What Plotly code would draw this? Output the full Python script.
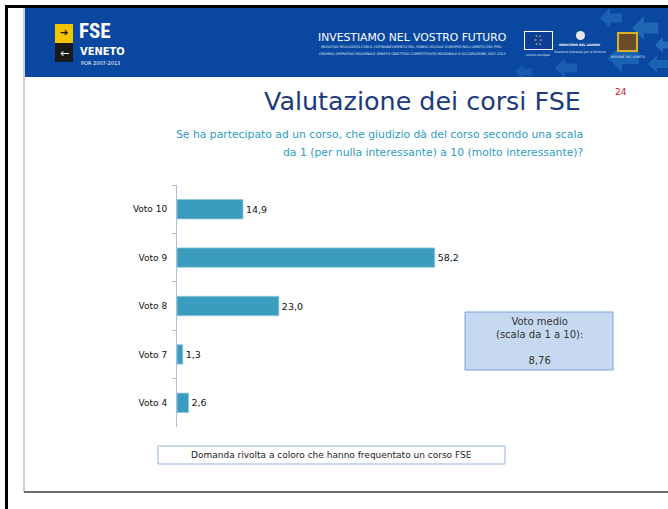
import plotly.graph_objects as go

categories = ["Voto 10", "Voto 9", "Voto 8", "Voto 7", "Voto 4"]
values = [14.9, 58.2, 23.0, 1.3, 2.6]
value_labels = ["14,9", "58,2", "23,0", "1,3", "2,6"]

title_text = "Valutazione dei corsi FSE"
subtitle_lines = ["Se ha partecipato ad un corso, che giudizio dà del corso secondo una scala",
                  "da 1 (per nulla interessante) a 10 (molto interessante)?"]
mean_label = "Voto medio<br>(scala da 1 a 10):<br><br>8,76"
note_text = "Domanda rivolta a coloro che hanno frequentato un corso FSE"
page_num = "24"

W, H = 668, 509
def px(x):
    return x / W
def py(y):
    return 1 - y / H

FONT = "DejaVu Sans"
BAR = "#3a9dbd"
AXIS = "#a9bfdb"

fig = go.Figure(go.Bar(
    x=values, y=categories, orientation="h",
    marker=dict(color=BAR, line=dict(color="#8fc6da", width=0.8)),
    text=value_labels, textposition="outside",
    textfont=dict(family=FONT, size=9.5, color="#111111"),
    cliponaxis=False, width=0.4, hoverinfo="skip",
))

fig.update_layout(
    width=W, height=H, margin=dict(l=0, r=0, t=0, b=0),
    paper_bgcolor="white", plot_bgcolor="rgba(0,0,0,0)",
    showlegend=False,
    xaxis=dict(domain=[px(177), px(487)], range=[0, 70], visible=False, fixedrange=True),
    yaxis=dict(domain=[py(427), py(185)], categoryorder="array", categoryarray=categories,
               autorange="reversed", showline=True, linecolor=AXIS, linewidth=1,
               ticks="outside", tickson="boundaries", ticklen=4, tickcolor=AXIS,
               ticklabelstandoff=7,
               tickfont=dict(family=FONT, size=9, color="#111111"),
               showgrid=False, zeroline=False, fixedrange=True),
)

shapes = []
def rect(x0, y0, x1, y1, fill, line=None, lw=0, layer="below", opacity=1):
    shapes.append(dict(type="rect", xref="paper", yref="paper",
                       x0=px(x0), x1=px(x1), y0=py(y1), y1=py(y0),
                       fillcolor=fill, line=dict(color=line or fill, width=lw),
                       layer=layer, opacity=opacity))
def line(x0, y0, x1, y1, color, w):
    shapes.append(dict(type="line", xref="paper", yref="paper",
                       x0=px(x0), x1=px(x1), y0=py(y0), y1=py(y1),
                       line=dict(color=color, width=w), layer="above"))
def path(points, fill, opacity=1):
    d = "M " + " L ".join(f"{px(a):.5f},{py(b):.5f}" for a, b in points) + " Z"
    shapes.append(dict(type="path", xref="paper", yref="paper", path=d,
                       fillcolor=fill, line=dict(width=0), layer="below", opacity=opacity))

# frame
line(24, 8, 24, 492, "#a0a0a0", 1)
line(24, 492, 668, 492, "#6d6d6d", 2)
rect(5, 5, 668, 8, "black", layer="above")
rect(5, 5, 8, 509, "black", layer="above")

# header
rect(25, 8, 668, 77, "#0a47a0")

# decorative arrows on right of header (pointing left)
def arrow(cx, cy, s, fill, op):
    pts = [(cx, cy), (cx + s, cy - s), (cx + s, cy - s * 0.45), (cx + 2.2 * s, cy - s * 0.45),
           (cx + 2.2 * s, cy + s * 0.45), (cx + s, cy + s * 0.45), (cx + s, cy + s)]
    path(pts, fill, op)
for (cx, cy, s, op) in [(600, 18, 10, 0.3), (632, 28, 12, 0.35), (608, 58, 14, 0.3),
                        (555, 68, 10, 0.25), (648, 64, 9, 0.3), (515, 72, 8, 0.2),
                        (655, 45, 8, 0.4)]:
    arrow(cx, cy, s, "#4aa3e0", op)

# logos
rect(55, 24, 73, 43, "#f2c500")
rect(55, 43, 73, 62, "#1a1a1a")
rect(524, 31, 553, 50, "white")
rect(525, 32, 552, 49, "#0d3f9a")
rect(617, 32, 638, 52, "#d9b020")
rect(619, 34, 636, 50, "#6a4a2a")
shapes.append(dict(type="circle", xref="paper", yref="paper", x0=px(576), x1=px(585),
                   y0=py(40), y1=py(31), fillcolor="#e8e8e8", line=dict(width=0)))

annotations = []
def txt(x, y, s, size, color, anchor="left", family=FONT, yanchor="middle", **kw):
    annotations.append(dict(x=px(x), y=py(y), xref="paper", yref="paper", text=s,
                            showarrow=False, xanchor=anchor, yanchor=yanchor,
                            font=dict(family=family, size=size, color=color), **kw))

txt(64, 33, "➔", 10, "#111111", anchor="center")
txt(64, 53, "←", 11, "white", anchor="center")
txt(77, 31, "<b>FSE</b>", 21, "white", family="Liberation Sans Narrow, Roboto Condensed, DejaVu Sans Condensed")
txt(78, 52, "<b>VENETO</b>", 11, "white", family="Liberation Sans Narrow, DejaVu Sans Condensed")
txt(79, 63, "POR 2007-2013", 5, "white")
txt(412, 37, "INVESTIAMO NEL VOSTRO FUTURO", 10.8, "white", anchor="center", family="DejaVu Sans")
txt(412, 47, "INIZIATIVA REALIZZATA CON IL COFINANZIAMENTO DEL FONDO SOCIALE EUROPEO NELL'AMBITO DEL PRO-",
    3.4, "#dfe8f5", anchor="center")
txt(412, 53, "GRAMMA OPERATIVO REGIONALE VENETO OBIETTIVO COMPETITIVITÀ REGIONALE E OCCUPAZIONE 2007-2013",
    3.4, "#dfe8f5", anchor="center")
txt(538, 40, "★ ★<br>★   ★<br>★ ★", 3, "#f2d000", anchor="center")
txt(538, 55, "Unione europea", 3, "#dfe8f5", anchor="center")
txt(580, 45, "<b>MINISTERO DEL LAVORO</b>", 3, "white", anchor="center")
txt(580, 52, "Direzione Generale per le Politiche", 3, "#dfe8f5", anchor="center")
txt(628, 57, "REGIONE DEL VENETO", 3, "#dfe8f5", anchor="center")

# titles
txt(583, 101, title_text, 25.4, "#1c3a7c", anchor="right")
txt(621, 92, page_num, 9, "#c8102e", anchor="center")
txt(585, 134, subtitle_lines[0], 10.8, "#2c9dc3", anchor="right")
txt(585, 152, subtitle_lines[1], 10.8, "#2c9dc3", anchor="right")

# mean box
rect(465, 312, 613, 370, "#c6d9f1", line="#7fa2d2", lw=1, layer="above")
txt(539, 341, mean_label, 10, "#333333", anchor="center")

# note box
rect(158, 446, 505, 464, "white", line="#95b3d7", lw=1, layer="above")
txt(331, 455, note_text, 9, "#222222", anchor="center")

fig.update_layout(shapes=shapes, annotations=annotations)
fig.write_html("out.html", config={"displayModeBar": False},
               post_script="document.body.style.margin='0px';")
